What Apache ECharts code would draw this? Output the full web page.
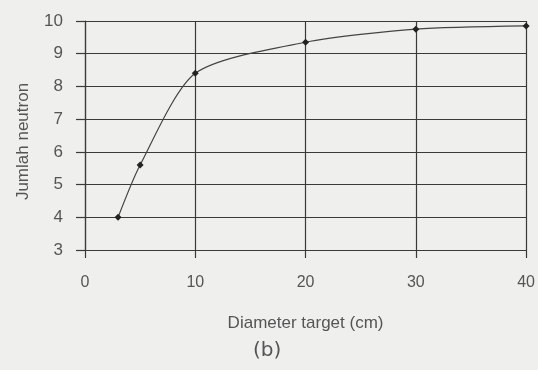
<!DOCTYPE html>
<html>
<head>
<meta charset="utf-8">
<script src="https://cdn.jsdelivr.net/npm/echarts@6/dist/echarts.min.js"></script>
<style>
html,body{margin:0;padding:0;background:#efefed;}
#c{width:538px;height:370px;}
</style>
</head>
<body>
<div id="c"></div>
<script>
const diameters = [3, 5, 10, 20, 30, 40];
const neutrons = [4.0, 5.6, 8.4, 9.35, 9.75, 9.85];
const xTicks = [0, 10, 20, 30, 40];
const yTicks = [3, 4, 5, 6, 7, 8, 9, 10];

const chart = echarts.init(document.getElementById('c'), null, {renderer: 'canvas'});
const lineColor = '#3a3a3a';
const textColor = '#555';
chart.setOption({
  backgroundColor: '#efefed',
  animation: false,
  grid: {left: 85, right: 10, top: 21, bottom: 120},
  xAxis: {
    type: 'value', min: xTicks[0], max: xTicks[xTicks.length-1], interval: 10,
    name: 'Diameter target (cm)', nameLocation: 'middle', nameGap: 65,
    nameTextStyle: {fontFamily: 'Liberation Sans', fontSize: 17, color: textColor},
    axisLine: {show: true, lineStyle: {color: lineColor, width: 1.2}},
    axisTick: {show: true, length: 8, lineStyle: {color: lineColor, width: 1.2}},
    axisLabel: {fontFamily: 'Liberation Sans', fontSize: 16, color: textColor, margin: 25},
    splitLine: {show: true, lineStyle: {color: lineColor, width: 1.2}}
  },
  yAxis: {
    type: 'value', min: yTicks[0], max: yTicks[yTicks.length-1], interval: 1,
    name: 'Jumlah neutron', nameLocation: 'middle', nameGap: 53, nameRotate: 90,
    nameTextStyle: {fontFamily: 'Liberation Sans', fontSize: 17, color: textColor, padding: [0, 12, 0, 0]},
    axisLine: {show: true, lineStyle: {color: lineColor, width: 1.2}},
    axisTick: {show: true, length: 9, lineStyle: {color: lineColor, width: 1.2}},
    axisLabel: {fontFamily: 'Liberation Sans', fontSize: 17, color: textColor, margin: 22},
    splitLine: {show: true, lineStyle: {color: lineColor, width: 1.2}}
  },
  graphic: [{
    type: 'text', left: 253, top: 341,
    style: {text: '(b)', fontFamily: 'DejaVu Sans', fontSize: 20, fill: '#555'}
  }],
  series: [{
    type: 'line',
    data: diameters.map((d, i) => [d, neutrons[i]]),
    smooth: 0.25,
    symbol: 'diamond',
    symbolSize: 7,
    itemStyle: {color: '#222'},
    lineStyle: {color: '#444', width: 1.2}
  }]
});
</script>
</body>
</html>
